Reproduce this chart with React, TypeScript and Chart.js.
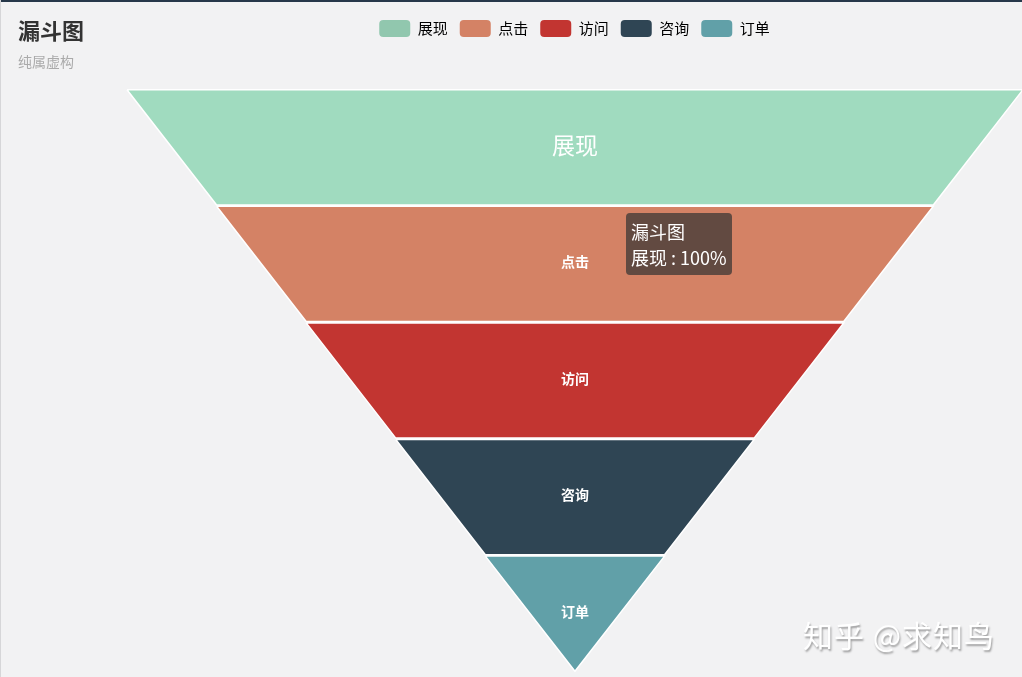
import { useEffect, useRef } from 'react';
import { Chart, ChartConfiguration, registerables } from 'chart.js';

Chart.register(...registerables);

// Funnel stages, top to bottom
const categories = ['展现', '点击', '访问', '咨询', '订单'];
const values = [100, 80, 60, 40, 20];
const colors = ['#91c7ae', '#d48265', '#c23531', '#2f4554', '#61a0a8'];
// first stage is shown in its hover (emphasis) colour
const shownColors = ['#a0dbbf', '#d48265', '#c23531', '#2f4554', '#61a0a8'];

const FONT = '"Microsoft YaHei", "Noto Sans CJK SC", "Noto Sans", sans-serif';

// each stage is a trapezoid: top width = its value, bottom width = next value
function trapezoid(i: number) {
  const top = values[i];
  const bottom = i + 1 < values.length ? values[i + 1] : 0;
  const y0 = i + 0.006;
  const y1 = i + 1 - 0.006;
  return [
    { x: -top / 2, y: y0 },
    { x: top / 2, y: y0 },
    { x: bottom / 2, y: y1 },
    { x: -bottom / 2, y: y1 },
    { x: -top / 2, y: y0 },
  ];
}

const legendSpace = {
  id: 'legendSpace',
  beforeInit(chart: any) {
    if (!chart.legend) return;
    const fit = chart.legend.fit;
    chart.legend.fit = function () {
      fit.bind(chart.legend)();
      this.height = 81;
    };
  },
};

const stageLabels = {
  id: 'stageLabels',
  afterDatasetsDraw(chart: any) {
    const { ctx, scales } = chart;
    ctx.save();
    ctx.fillStyle = '#fff';
    ctx.textAlign = 'center';
    ctx.textBaseline = 'middle';
    categories.forEach((name, i) => {
      const x = scales.x.getPixelForValue(0);
      const y = scales.y.getPixelForValue(i + 0.5) - 2;
      ctx.font = i === 0 ? `23px ${FONT}` : `bold 14px ${FONT}`;
      ctx.fillText(name, x, y);
    });
    ctx.restore();
  },
};

export default function App() {
  const canvasRef = useRef<HTMLCanvasElement>(null);
  const chartRef = useRef<Chart | null>(null);

  useEffect(() => {
    if (!canvasRef.current) return;
    if (chartRef.current) chartRef.current.destroy();

    const config: ChartConfiguration = {
      type: 'scatter',
      data: {
        datasets: categories.map((name, i) => ({
          label: name,
          data: trapezoid(i),
          showLine: true,
          fill: 'shape',
          backgroundColor: shownColors[i],
          borderColor: '#ffffff',
          borderWidth: 1.5,
          pointRadius: 0,
          pointHoverRadius: 0,
          tension: 0,
          clip: false,
        })) as any,
      },
      options: {
        animation: false,
        responsive: true,
        maintainAspectRatio: false,
        events: [],
        layout: { padding: { top: 8, left: 127, right: 0, bottom: 5 } },
        plugins: {
          legend: {
            position: 'top',
            labels: {
              boxWidth: 31,
              boxHeight: 17,
              padding: 12,
              useBorderRadius: true,
              borderRadius: 4,
              color: '#333',
              font: { size: 15, family: FONT },
              generateLabels: () =>
                categories.map((name, i) => ({
                  text: name,
                  fillStyle: colors[i],
                  strokeStyle: colors[i],
                  lineWidth: 0,
                  borderRadius: 4,
                  datasetIndex: i,
                  hidden: false,
                })),
            },
          },
          tooltip: { enabled: false },
        },
        scales: {
          x: { type: 'linear', min: -50, max: 49.9, display: false },
          y: { type: 'linear', min: 0, max: 5, reverse: true, display: false },
        },
      },
      plugins: [legendSpace, stageLabels],
    };

    chartRef.current = new Chart(canvasRef.current, config);

    return () => {
      if (chartRef.current) {
        chartRef.current.destroy();
        chartRef.current = null;
      }
    };
  }, []);

  return (
    <div
      style={{
        position: 'fixed',
        left: 0,
        top: 0,
        width: 1022,
        height: 677,
        background: '#f2f2f3',
        fontFamily: FONT,
        overflow: 'hidden',
      }}
    >
      <canvas ref={canvasRef}></canvas>
      <div style={{ position: 'absolute', left: 0, top: 0, width: 1022, height: 2, background: '#27384a' }} />
      <div style={{ position: 'absolute', left: 0, top: 0, width: 1, height: 677, background: '#d6d6d8' }} />
      <div style={{ position: 'absolute', left: 18, top: 16, fontSize: 22, fontWeight: 'bold', color: '#333', lineHeight: '26px' }}>
        漏斗图
      </div>
      <div style={{ position: 'absolute', left: 18, top: 52, fontSize: 14, color: '#aaa', lineHeight: '18px' }}>
        纯属虚构
      </div>
      <div
        style={{
          position: 'absolute',
          left: 626,
          top: 213,
          padding: '5px 5px',
          borderRadius: 4,
          background: 'rgba(50,50,50,0.7)',
          color: '#fff',
          fontSize: 18,
          lineHeight: '26px',
          whiteSpace: 'nowrap',
        }}
      >
        <div>漏斗图</div>
        <div>{categories[0]} : {values[0]}%</div>
      </div>
      <div
        style={{
          position: 'absolute',
          left: 803,
          top: 612,
          fontSize: 30,
          color: '#ffffff',
          textShadow: '1px 2px 2px rgba(0,0,0,0.35)',
          whiteSpace: 'nowrap',
          letterSpacing: 1,
        }}
      >
        知乎 @求知鸟
      </div>
    </div>
  );
}
